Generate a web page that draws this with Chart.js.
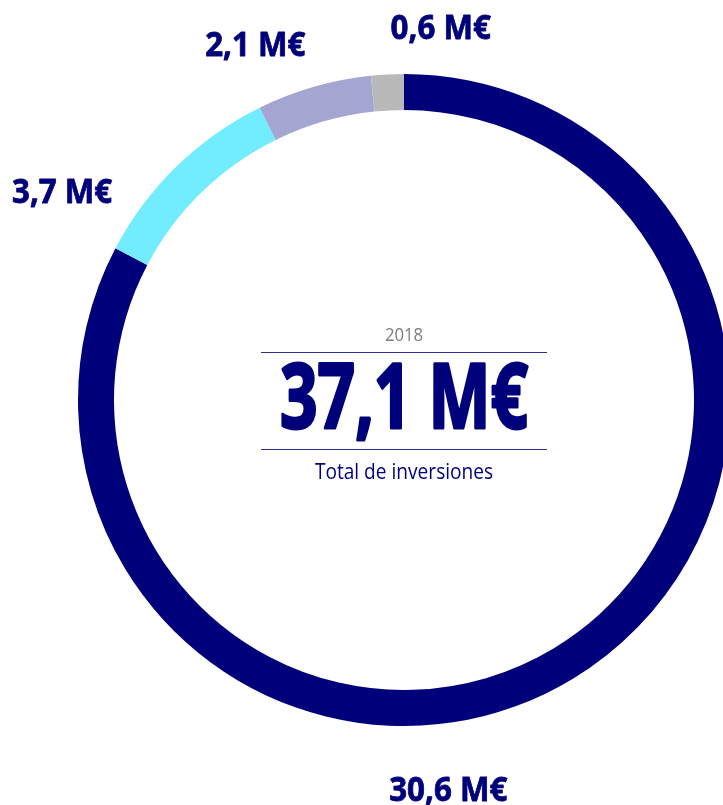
<!DOCTYPE html>
<html lang="es">
<head>
<meta charset="utf-8">
<title>Total de inversiones 2018</title>
<script src="https://cdn.jsdelivr.net/npm/chart.js@4.4.1/dist/chart.umd.min.js"></script>
<style>
  html, body { margin: 0; padding: 0; background: #fff; overflow: hidden; width: 723px; height: 805px; }
  #wrap { position: absolute; left: 0; top: 0; width: 808px; height: 805px; }
</style>
</head>
<body>
<div id="wrap"><canvas id="inversionesChart"></canvas></div>
<script>
// Inversiones 2018 (M€)
const partidas = ['Partida 1', 'Partida 2', 'Partida 3', 'Partida 4'];
const valores = [30.6, 3.7, 2.1, 0.6];
const colores = ['#00007a', '#72ecff', '#a5a5d2', '#b9b9b9'];
const anio = '2018';
const totalInversiones = 37.1;
const subtitulo = 'Total de inversiones';

const AZUL = '#00007a';

function formatoME(v) {
    return v.toFixed(1).replace('.', ',') + ' M€';
}

// texto centrado con estrechamiento horizontal; grosor > 0 lo engrosa con un trazo
function textoEscalado(ctx, texto, x, y, fuente, color, sx, grosor) {
    ctx.save();
    ctx.translate(x, y);
    ctx.scale(sx, 1);
    ctx.font = fuente;
    ctx.fillStyle = color;
    ctx.textAlign = 'center';
    ctx.textBaseline = 'alphabetic';
    ctx.fillText(texto, 0, 0);
    if (grosor) {
        ctx.strokeStyle = color;
        ctx.lineWidth = grosor;
        ctx.lineJoin = 'round';
        ctx.strokeText(texto, 0, 0);
    }
    ctx.restore();
}

// etiquetas exteriores: ángulo (grados desde arriba, sentido horario) y distancia al centro
const etiquetasExternas = {
    id: 'etiquetasExternas',
    afterDatasetsDraw(chart, args, opts) {
        const ctx = chart.ctx;
        const arcs = chart.getDatasetMeta(0).data;
        arcs.forEach((arc, i) => {
            const pos = opts.posiciones[i];
            const a = (pos.angulo - 90) * Math.PI / 180;
            const x = arc.x + Math.cos(a) * pos.radio;
            const y = arc.y + Math.sin(a) * pos.radio;
            textoEscalado(ctx, formatoME(valores[i]), x, y + 13, 'bold 34px "Open Sans"', AZUL, 0.92, 0.8);
        });
    }
};

// texto central con el total
const textoCentral = {
    id: 'textoCentral',
    afterDraw(chart) {
        const ctx = chart.ctx;
        const arc = chart.getDatasetMeta(0).data[0];
        const cx = arc.x, cy = arc.y;

        textoEscalado(ctx, anio, cx, cy - 59, '19px "Open Sans"', '#7c7c7c', 0.88);

        ctx.save();
        ctx.strokeStyle = '#30308c';
        ctx.lineWidth = 1;
        ctx.beginPath();
        ctx.moveTo(cx - 143, cy - 47.5);
        ctx.lineTo(cx + 143, cy - 47.5);
        ctx.moveTo(cx - 143, cy + 49.5);
        ctx.lineTo(cx + 143, cy + 49.5);
        ctx.stroke();
        ctx.restore();

        textoEscalado(ctx, formatoME(totalInversiones), cx, cy + 28, 'bold 90px "Open Sans"', AZUL, 0.73, 3);
        textoEscalado(ctx, subtitulo, cx, cy + 79, '21px "Open Sans"', AZUL, 0.91);
    }
};

const ctx = document.getElementById('inversionesChart').getContext('2d');

const grafico = new Chart(ctx, {
    type: 'doughnut',
    data: {
        labels: partidas,
        datasets: [{
            data: valores,
            backgroundColor: colores,
            borderWidth: 0,
            hoverOffset: 0
        }]
    },
    options: {
        responsive: true,
        maintainAspectRatio: false,
        animation: false,
        cutout: 290,
        rotation: 0,
        layout: {
            padding: { left: 78, right: 78, top: 74, bottom: 79 }
        },
        plugins: {
            legend: { display: false },
            tooltip: { enabled: false },
            etiquetasExternas: {
                posiciones: [
                    { angulo: 173.5, radio: 391 },
                    { angulo: -58.5, radio: 401 },
                    { angulo: -22.6, radio: 387 },
                    { angulo: 5.6, radio: 376 }
                ]
            }
        }
    },
    plugins: [etiquetasExternas, textoCentral]
});
</script>
</body>
</html>
